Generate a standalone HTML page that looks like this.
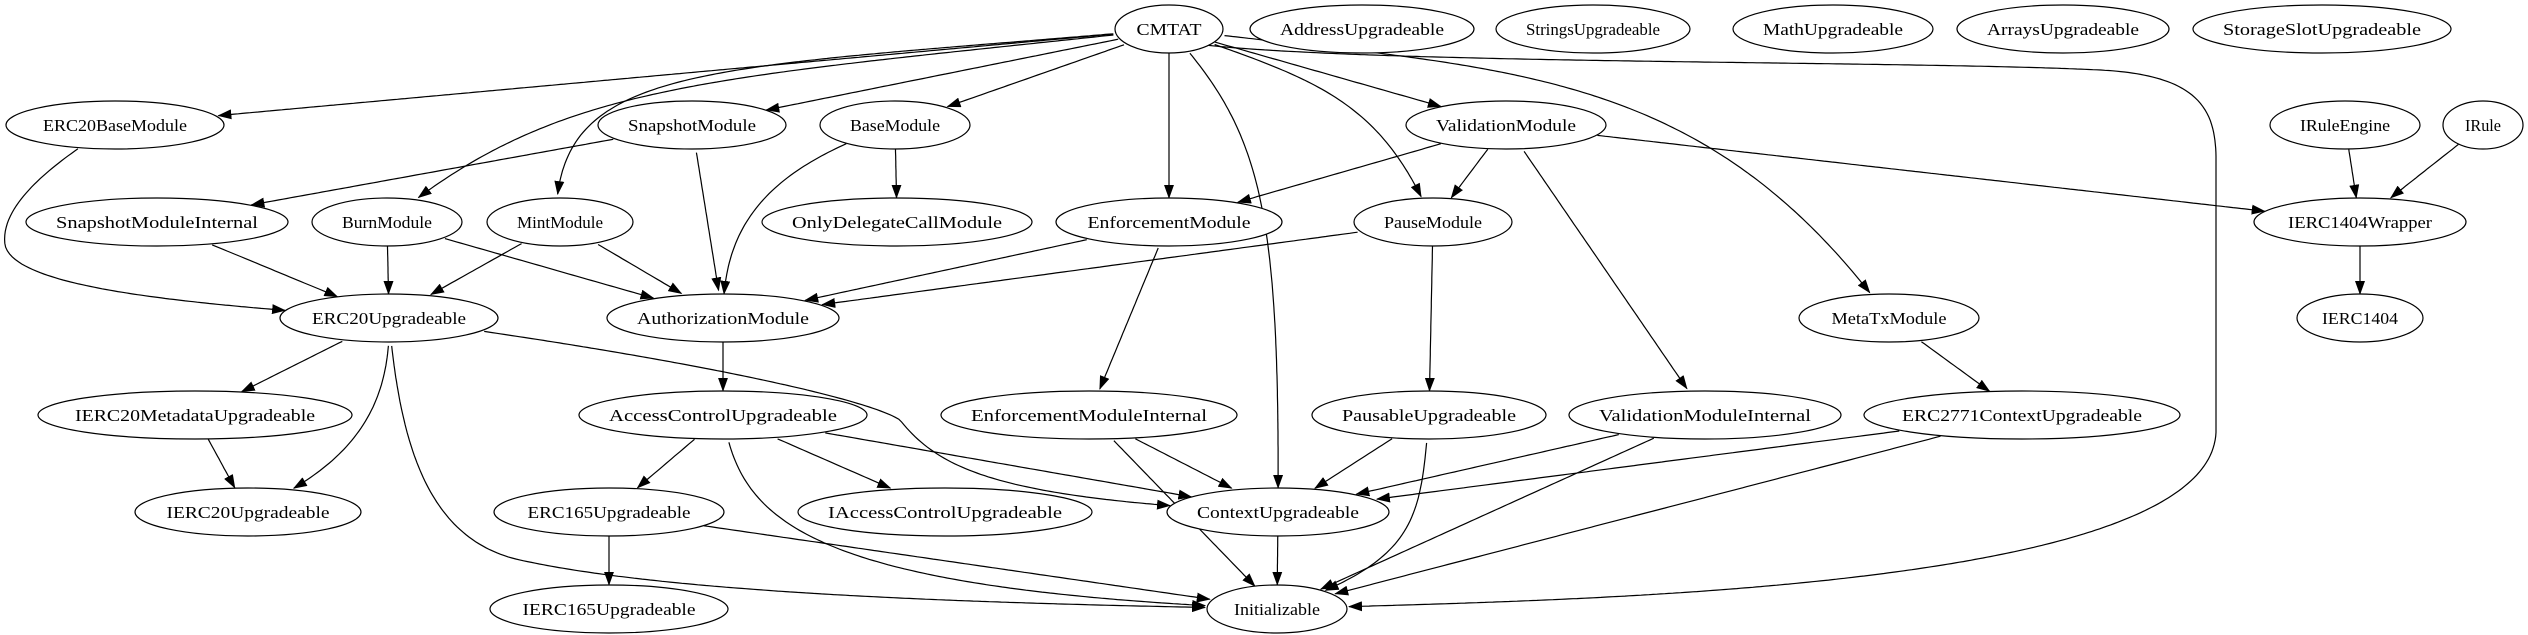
<!DOCTYPE html>
<html><head><meta charset="utf-8"><style>
html,body{margin:0;padding:0;background:#fff;}
svg{display:block;}
text{font-family:"Liberation Serif",serif;font-size:17px;fill:#000;}
</style></head><body>
<svg id="g" width="2528" height="635" viewBox="0 0 2528 635" xmlns="http://www.w3.org/2000/svg">
<defs><marker id="a" markerWidth="14" markerHeight="10" refX="13" refY="5" orient="auto" markerUnits="userSpaceOnUse"><path d="M0,0 L14,5 L0,10 z" fill="#000"/></marker></defs>
<g id="edges" fill="none" stroke="#000" stroke-width="1.2"></g>
<g id="nodes"></g>
</svg>
<script>
var R1=29,R2=125,R3=222,R4=318,R5=415,R6=512,R7=609;
var N={
CMTAT:[1169,R1,54],AddressUpgradeable:[1362,R1,112],StringsUpgradeable:[1593,R1,97],MathUpgradeable:[1833,R1,100],ArraysUpgradeable:[2063,R1,106],StorageSlotUpgradeable:[2322,R1,129],
ERC20BaseModule:[115,R2,109],SnapshotModule:[692,R2,94],BaseModule:[895,R2,75],ValidationModule:[1506,R2,100],IRuleEngine:[2345,R2,75],IRule:[2483,R2,40],
SnapshotModuleInternal:[157,R3,131],BurnModule:[387,R3,75],MintModule:[560,R3,73],OnlyDelegateCallModule:[897,R3,135],EnforcementModule:[1169,R3,113],PauseModule:[1433,R3,79],IERC1404Wrapper:[2360,R3,106],
ERC20Upgradeable:[389,R4,109],AuthorizationModule:[723,R4,116],MetaTxModule:[1889,R4,90],IERC1404:[2360,R4,63],
IERC20MetadataUpgradeable:[195,R5,157],AccessControlUpgradeable:[723,R5,144],EnforcementModuleInternal:[1089,R5,148],PausableUpgradeable:[1429,R5,117],ValidationModuleInternal:[1705,R5,136],ERC2771ContextUpgradeable:[2022,R5,158],
IERC20Upgradeable:[248,R6,113],ERC165Upgradeable:[609,R6,115],IAccessControlUpgradeable:[945,R6,147],ContextUpgradeable:[1278,R6,111],
IERC165Upgradeable:[609,R7,119],Initializable:[1277,R7,70]
};
var RY=24;
var E=[
["CMTAT","ERC20BaseModule"],["CMTAT","SnapshotModule"],["CMTAT","BaseModule"],
["CMTAT","BurnModule","M1169,29 C700,80 560,80 387,222"],
["CMTAT","MintModule","M1169,29 C700,70 556,60 556,222"],
["CMTAT","EnforcementModule"],
["CMTAT","ContextUpgradeable","M1169,29 C1260,130 1280,200 1278,512"],
["CMTAT","PauseModule","M1169,29 C1320,80 1380,100 1433,222"],
["CMTAT","ValidationModule"],
["CMTAT","MetaTxModule","M1169,29 C1500,70 1700,60 1889,318"],
["CMTAT","Initializable","M1169,40 C1300,65 1900,60 2100,70 C2200,75 2216,110 2216,160 L2216,430 C2216,600 1500,600 1277,609"],
["ERC20BaseModule","ERC20Upgradeable","M115,125 C40,170 0,210 5,245 C15,290 200,305 389,318"],
["SnapshotModule","SnapshotModuleInternal"],["SnapshotModule","AuthorizationModule"],
["BaseModule","OnlyDelegateCallModule"],
["BaseModule","AuthorizationModule","M895,125 C760,170 723,230 723,318"],
["SnapshotModuleInternal","ERC20Upgradeable"],["BurnModule","ERC20Upgradeable"],["BurnModule","AuthorizationModule"],
["MintModule","ERC20Upgradeable"],["MintModule","AuthorizationModule"],
["EnforcementModule","AuthorizationModule"],["EnforcementModule","EnforcementModuleInternal"],
["PauseModule","AuthorizationModule"],["PauseModule","PausableUpgradeable"],
["ValidationModule","EnforcementModule"],["ValidationModule","PauseModule"],["ValidationModule","ValidationModuleInternal"],["ValidationModule","IERC1404Wrapper"],
["IRuleEngine","IERC1404Wrapper"],["IRule","IERC1404Wrapper"],["IERC1404Wrapper","IERC1404"],
["MetaTxModule","ERC2771ContextUpgradeable"],
["ERC20Upgradeable","IERC20MetadataUpgradeable"],
["ERC20Upgradeable","IERC20Upgradeable","M389,318 C392,420 340,470 248,512"],
["ERC20Upgradeable","Initializable","M389,318 C400,450 430,540 520,560 C700,600 1100,605 1277,609"],
["ERC20Upgradeable","ContextUpgradeable","M389,318 C700,360 870,400 900,420 C940,470 1000,500 1278,512"],
["AuthorizationModule","AccessControlUpgradeable"],
["IERC20MetadataUpgradeable","IERC20Upgradeable"],
["AccessControlUpgradeable","ERC165Upgradeable"],["AccessControlUpgradeable","IAccessControlUpgradeable"],["AccessControlUpgradeable","ContextUpgradeable"],
["AccessControlUpgradeable","Initializable","M723,415 C740,520 800,590 1277,609"],
["EnforcementModuleInternal","ContextUpgradeable"],["EnforcementModuleInternal","Initializable"],
["PausableUpgradeable","ContextUpgradeable"],["PausableUpgradeable","Initializable","M1429,415 C1420,520 1420,560 1277,609"],
["ValidationModuleInternal","ContextUpgradeable"],["ValidationModuleInternal","Initializable"],
["ERC2771ContextUpgradeable","ContextUpgradeable"],["ERC2771ContextUpgradeable","Initializable"],
["ERC165Upgradeable","IERC165Upgradeable"],["ERC165Upgradeable","Initializable"],
["ContextUpgradeable","Initializable"]
];
var NS="http://www.w3.org/2000/svg";
var eg=document.getElementById("edges"),ng=document.getElementById("nodes");
function inside(n,p){var d=N[n];var dx=(p.x-d[0])/d[2],dy=(p.y-d[1])/RY;return dx*dx+dy*dy<1;}
E.forEach(function(e){
  var a=N[e[0]],b=N[e[1]];
  var d=e[2]||("M"+a[0]+","+a[1]+" L"+b[0]+","+b[1]);
  var p=document.createElementNS(NS,"path");p.setAttribute("d",d);eg.appendChild(p);
  var L=p.getTotalLength();eg.removeChild(p);
  var pts=[],steps=Math.max(40,Math.round(L/4));
  for(var i=0;i<=steps;i++){var q=p.getPointAtLength(L*i/steps);
    if(inside(e[0],q)||inside(e[1],q))continue;pts.push(q.x.toFixed(1)+","+q.y.toFixed(1));}
  var pl=document.createElementNS(NS,"polyline");pl.setAttribute("points",pts.join(" "));
  pl.setAttribute("marker-end","url(#a)");eg.appendChild(pl);
});
var TL={CMTAT:65,Initializable:86,IRule:36,IERC1404:76,IRuleEngine:90};
for(var k in N){var d=N[k];
  var el=document.createElementNS(NS,"ellipse");
  el.setAttribute("cx",d[0]);el.setAttribute("cy",d[1]);el.setAttribute("rx",d[2]);el.setAttribute("ry",RY);
  el.setAttribute("fill","#fff");el.setAttribute("stroke","#000");el.setAttribute("stroke-width","1.2");ng.appendChild(el);
  var t=document.createElementNS(NS,"text");t.setAttribute("x",d[0]);t.setAttribute("y",d[1]+6);
  t.setAttribute("text-anchor","middle");t.textContent=k;
  var tl=TL[k]||Math.min(9.6*k.length,2*d[2]-60);
  t.setAttribute("textLength",tl.toFixed(0));t.setAttribute("lengthAdjust","spacingAndGlyphs");
  ng.appendChild(t);}
</script>
</body></html>
